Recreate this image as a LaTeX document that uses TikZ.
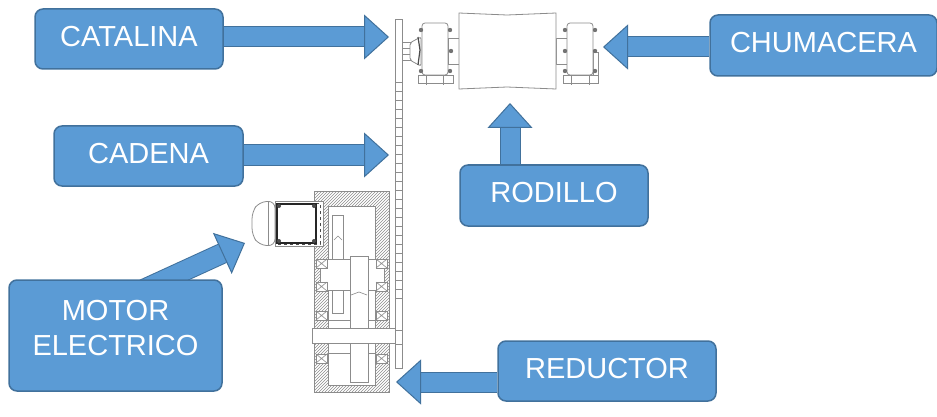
\documentclass[tikz,border=0pt]{standalone}
\usepackage{fontspec}
\setmainfont{Liberation Sans}
\usetikzlibrary{arrows.meta,patterns,backgrounds}
\definecolor{boxblue}{RGB}{91,155,213}
\definecolor{boxedge}{RGB}{65,113,156}
\tikzset{
  labelbox/.style={draw=boxedge, line width=1.5pt, fill=boxblue, rounded corners=8pt, text=white, inner sep=0pt, text depth=6pt, align=center, font=\fontsize{29}{35}\selectfont},
  blockarrow/.style={draw=boxedge, line width=1pt, double=boxblue, double distance=19pt, -{Triangle[length=25pt,width=45pt,fill=boxblue,line width=1pt]}},
  part/.style={draw=black!45, line width=0.8pt, fill=white},
  thinline/.style={draw=black!45, line width=0.6pt},
}
\begin{document}
\begin{tikzpicture}[x=1pt, y=-1pt]
\useasboundingbox (0,0) rectangle (937,417);
% chain and sprocket
\draw[part] (395,19) rectangle (402,368);
\foreach \y in {82,91,...,305} \draw[thinline] (395,\y) -- (402,\y);
% left bearing
\draw[part] (402,42) rectangle (410,60);
\draw[thinline] (402,48) -- (410,48) (402,54) -- (410,54);
\draw[part, rounded corners=2pt] (410,43) -- (415,40) -- (421,37) -- (421,66) -- (415,63) -- (410,60) -- cycle;
\draw[black!70, line width=1.2pt] (418,37) -- (420,50) -- (418,65);
\draw[part, rounded corners=3pt] (422,75) -- (422,23) -- (448,23) -- (448,75) -- cycle;
\draw[part] (418,75) rectangle (453,83);
\draw[thinline] (426,75) -- (426,85) (443,75) -- (443,85);
\draw[part] (448,38) rectangle (459,64);
\foreach \x/\y in {421/30,450/30,421/71,450/71,451/51} \fill[black!55] (\x,\y) circle (2.2pt);
% right bearing
\draw[part] (556,38) rectangle (567,64);
\draw[part] (593,52) rectangle (598,78);
\draw[part, rounded corners=3pt] (567,75) -- (567,23) -- (593,23) -- (593,75) -- cycle;
\draw[part] (563,75) rectangle (598,83);
\draw[thinline] (571,75) -- (571,85) (589,75) -- (589,85);
\foreach \x/\y in {565/30,595/30,565/71,595/71,565/51,595/51} \fill[black!55] (\x,\y) circle (2.2pt);
% roller
\draw[part] (459,13) -- (507,15) -- (556,13) -- (556,89) -- (507,87) -- (459,89) -- cycle;
% gearbox
\draw[black!45, line width=0.8pt, fill=black!12, pattern=north east lines, pattern color=black!45] (314,191) rectangle (389,392);
\draw[part] (328,206) rectangle (375,385);
\draw[part] (332,215) rectangle (343,313);
\draw[part] (320,259) rectangle (384,290);
\draw[part] (328,320) rectangle (375,353);
\draw[part] (350,256) rectangle (368,382);
\draw[thinline] (334,240) -- (338,236) -- (342,240) (351,295) -- (359,292) -- (367,295);
\draw[part] (312,328) rectangle (395,343);
\draw[part] (395,330) rectangle (402,344);
\foreach \x/\y in {316/259,376/259,316/282,376/282,316/311,376/311,316/354,376/354} {
  \draw[part] (\x,\y) rectangle +(11,9);
  \draw[thinline] (\x,\y) -- +(11,9) (\x,\y+9) -- +(11,-9);
}
% motor
\draw[part, rounded corners=7pt] (275,201) -- (259,202) -- (252,212) -- (252,235) -- (259,245) -- (275,246) -- cycle;
\draw[thinline] (268,202) -- (268,245);
\draw[part] (275,201) rectangle (323,246);
\draw[black!70, line width=1pt, dashed] (277,203) rectangle (320,244);
\draw[black!85, line width=1.6pt] (277,204) rectangle (316,243);
\foreach \x/\y in {279/206,314/206,279/241,314/241} \fill[black!70] (\x,\y) circle (2pt);
% labels
\node[labelbox, minimum width=188pt, minimum height=60pt] (catalina) at (129,39) {CATALINA};
\node[labelbox, minimum width=189pt, minimum height=60pt] (cadena) at (148.5,156) {CADENA};
\node[labelbox, text depth=16pt, minimum width=213pt, minimum height=111pt] (motor) at (115.5,335.5) {MOTOR\\ELECTRICO};
\node[labelbox, minimum width=227pt, minimum height=61pt] (chumacera) at (823.5,45.5) {CHUMACERA};
\node[labelbox, minimum width=188pt, minimum height=61pt] (rodillo) at (554,195.5) {RODILLO};
\node[labelbox, minimum width=218pt, minimum height=60pt] (reductor) at (607,371) {REDUCTOR};
% targets
\coordinate (catalinatip) at (389,37);
\coordinate (cadenatip) at (389,155);
\coordinate (motortip) at (245,243);
\coordinate (chumaceratip) at (603,47);
\coordinate (rodillotip) at (510,103);
\coordinate (reductortip) at (396,382);
% arrows
\begin{scope}[on background layer]
\draw[blockarrow] (catalina.east |- catalinatip) -- (catalinatip);
\draw[blockarrow] (cadena.east |- cadenatip) -- (cadenatip);
\draw[blockarrow] ([xshift=28.5pt,yshift=-10pt]motor.north) -- (motortip);
\draw[blockarrow] (chumacera.west |- chumaceratip) -- (chumaceratip);
\draw[blockarrow] (rodillotip |- rodillo.north) -- (rodillotip);
\draw[blockarrow] (reductor.west |- reductortip) -- (reductortip);
\end{scope}
\end{tikzpicture}
\end{document}
